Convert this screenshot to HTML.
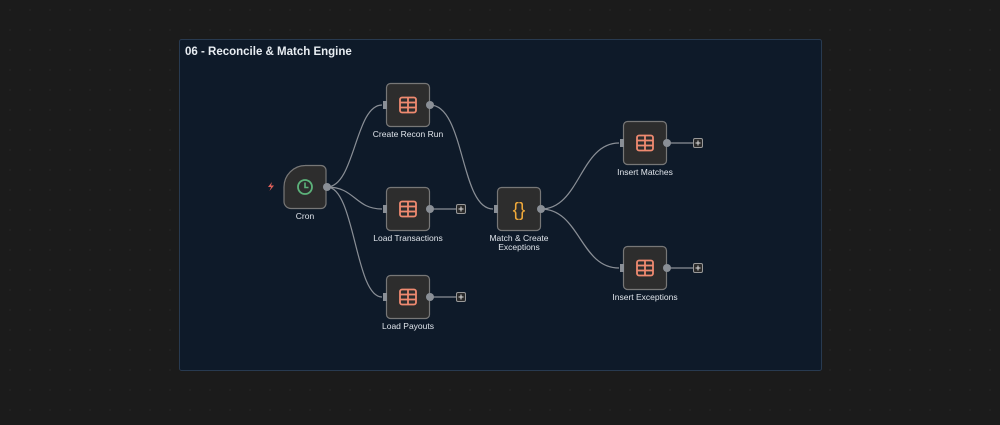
<!DOCTYPE html>
<html><head><meta charset="utf-8"><style>
html,body{margin:0;padding:0;background:#1b1b1b;}
body{width:1000px;height:420px;overflow:hidden;font-family:"Liberation Sans",sans-serif;}
</style></head><body>
<svg width="1000" height="420" xmlns="http://www.w3.org/2000/svg" font-family="Liberation Sans, sans-serif">
<defs>
<pattern id="dots" width="20" height="20" patternUnits="userSpaceOnUse"><circle cx="10" cy="10" r="0.7" fill="#2a2a2a"/></pattern>
<g id="tbl"><rect x="-8" y="-7.5" width="16" height="15" rx="2" fill="none" stroke="#ef8a70" stroke-width="1.8"/><line x1="-8" y1="-2.5" x2="8" y2="-2.5" stroke="#ef8a70" stroke-width="1.8"/><line x1="-8" y1="2.5" x2="8" y2="2.5" stroke="#ef8a70" stroke-width="1.8"/><line x1="0" y1="-7.5" x2="0" y2="7.5" stroke="#ef8a70" stroke-width="1.8"/></g>
<g id="plus"><rect x="-4.5" y="-4.5" width="9" height="9" rx="1.5" fill="#2a2a2a" stroke="#999" stroke-width="1"/><path d="M-2.5 0H2.5M0 -2.5V2.5" stroke="#ddd" stroke-width="1"/></g>
</defs>
<rect width="1000" height="420" fill="#1b1b1b"/>
<rect width="1000" height="420" fill="url(#dots)"/>
<rect x="179.5" y="39.5" width="642" height="331" rx="2" fill="#0e1a29" stroke="#283a50"/>
<text x="185" y="55" fill="#e8edf2" font-size="11.5" font-weight="bold">06 - Reconcile &amp; Match Engine</text>
<g fill="none" stroke="#8a8f96" stroke-width="1.2">
<path d="M327 187 C355 187,355 105,382 105"/>
<path d="M327 187 C355 187,355 209,382 209"/>
<path d="M327 187 C355 187,355 297,382 297"/>
<path d="M430 105 C465 105,460 209,493 209"/>
<path d="M541 209 C580 209,580 143,619 143"/>
<path d="M541 209 C580 209,580 268,619 268"/>
<path d="M430 209H456M430 297H456M667 143H693M667 268H693"/>
</g>
<g fill="#2d2d2d" stroke="#777" stroke-width="1.2">
<path d="M305 165.5H321a5 5 0 0 1 5 5V203.5a5 5 0 0 1 -5 5H291a7 7 0 0 1 -7 -7V187a21.5 21.5 0 0 1 21.5 -21.5z"/>
<rect x="386.5" y="83.5" width="43" height="43" rx="4"/>
<rect x="386.5" y="187.5" width="43" height="43" rx="4"/>
<rect x="386.5" y="275.5" width="43" height="43" rx="4"/>
<rect x="497.5" y="187.5" width="43" height="43" rx="4"/>
<rect x="623.5" y="121.5" width="43" height="43" rx="4"/>
<rect x="623.5" y="246.5" width="43" height="43" rx="4"/>
</g>
<circle cx="305" cy="187" r="7" fill="none" stroke="#5cb27a" stroke-width="1.8"/>
<path d="M305 182.5V187.5H308.5" fill="none" stroke="#5cb27a" stroke-width="1.6"/>
<path d="M272 182L268 187H271L269.5 191L274 185.5H271Z" fill="#e0605a"/>
<use href="#tbl" x="408" y="105"/><use href="#tbl" x="408" y="209"/><use href="#tbl" x="408" y="297"/>
<use href="#tbl" x="645" y="143"/><use href="#tbl" x="645" y="268"/>
<text x="519" y="216" fill="#f0a93a" font-size="19" text-anchor="middle">{}</text>
<g fill="#8a8f96">
<circle cx="327" cy="187" r="4"/><circle cx="430" cy="105" r="4"/><circle cx="430" cy="209" r="4"/><circle cx="430" cy="297" r="4"/><circle cx="541" cy="209" r="4"/><circle cx="667" cy="143" r="4"/><circle cx="667" cy="268" r="4"/>
<rect x="383" y="101" width="4" height="8"/><rect x="383" y="205" width="4" height="8"/><rect x="383" y="293" width="4" height="8"/><rect x="494" y="205" width="4" height="8"/><rect x="620" y="139" width="4" height="8"/><rect x="620" y="264" width="4" height="8"/>
</g>
<use href="#plus" x="461" y="209"/><use href="#plus" x="461" y="297"/><use href="#plus" x="698" y="143"/><use href="#plus" x="698" y="268"/>
<g fill="#dfe4ea" font-size="8.5" text-anchor="middle">
<text x="305" y="219">Cron</text>
<text x="408" y="137">Create Recon Run</text>
<text x="408" y="241">Load Transactions</text>
<text x="408" y="329">Load Payouts</text>
<text x="519" y="241">Match &amp; Create</text>
<text x="519" y="250">Exceptions</text>
<text x="645" y="175">Insert Matches</text>
<text x="645" y="300">Insert Exceptions</text>
</g>
</svg>
</body></html>
